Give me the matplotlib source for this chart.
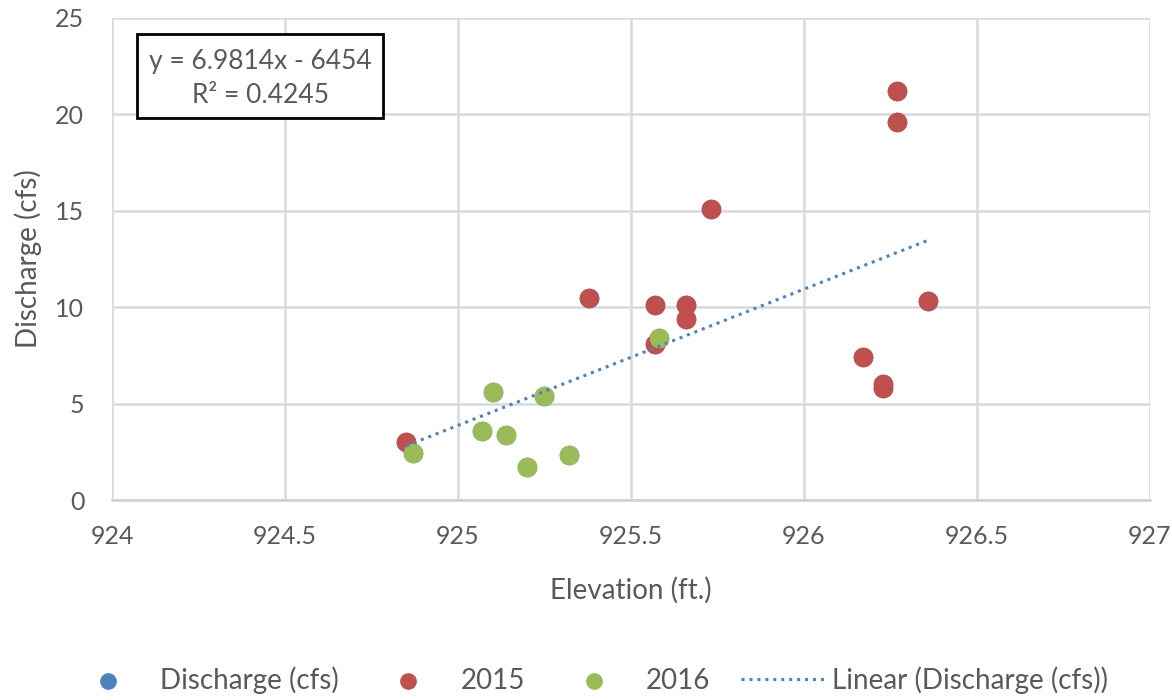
import numpy as np
import matplotlib
matplotlib.use("Agg")
import matplotlib.pyplot as plt
from matplotlib.patches import Rectangle
from matplotlib.legend_handler import HandlerLine2D

plt.rcParams['font.family'] = ['Lato', 'DejaVu Sans']

elev_2015 = [924.85, 925.38, 925.57, 925.66, 925.66, 925.57, 925.73, 926.27, 926.27, 926.36, 926.17, 926.23, 926.23]
q_2015 = [3.0, 10.5, 10.1, 10.1, 9.4, 8.1, 15.1, 21.2, 19.6, 10.3, 7.4, 6.0, 5.8]
elev_2016 = [924.87, 925.07, 925.10, 925.14, 925.25, 925.20, 925.32, 925.58]
q_2016 = [2.44, 3.6, 5.6, 3.35, 5.4, 1.7, 2.35, 8.4]

elev_all = elev_2015 + elev_2016
q_all = q_2015 + q_2016

x_ticks = [924, 924.5, 925, 925.5, 926, 926.5, 927]
x_tick_labels = ['924', '924.5', '925', '925.5', '926', '926.5', '927']
y_ticks = [0, 5, 10, 15, 20, 25]

equation_text = "y = 6.9814x - 6454\nR² = 0.4245"

fig = plt.figure(figsize=(11.72, 7.0), dpi=100)
ax = fig.add_axes([0.0956, 0.2857, 0.8855, 0.6886])

blue = '#4F81BD'
red = '#C0504D'
green = '#9BBB59'
tcol = '#595959'

ax.scatter(elev_all, q_all, s=200, color=blue, zorder=2, label='Discharge (cfs)', linewidths=0)
ax.scatter(elev_2015, q_2015, s=200, color=red, zorder=3, label='2015', linewidths=0)
ax.scatter(elev_2016, q_2016, s=200, color=green, zorder=3, label='2016', linewidths=0)

coef = np.polyfit(elev_all, q_all, 1)
xs = np.array([min(elev_all), max(elev_all)])
ax.plot(xs, np.polyval(coef, xs), linestyle=(0, (1, 1.6)), color=blue, linewidth=2.2,
        zorder=4, label='Linear (Discharge (cfs))')

ax.set_xlim(924, 927)
ax.set_ylim(0, 25)
ax.set_xticks(x_ticks)
ax.set_xticklabels(x_tick_labels)
ax.set_yticks(y_ticks)
ax.grid(True, color='#D9D9D9', linewidth=1.8, zorder=0)
ax.set_axisbelow(True)
for s in ['top', 'right', 'left']:
    ax.spines[s].set_visible(False)
ax.spines['bottom'].set_color('#D0D0D0')
ax.spines['bottom'].set_linewidth(1.8)
ax.tick_params(length=0, labelsize=18, colors=tcol)
ax.tick_params(axis='x', pad=18)
ax.tick_params(axis='y', pad=20)
ax.set_xlabel('Elevation (ft.)', fontsize=20, color=tcol)
ax.set_ylabel('Discharge (cfs)', fontsize=20, color=tcol)
ax.xaxis.label.set_va('center')
ax.yaxis.label.set_va('center')
ax.xaxis.set_label_coords(0.5, -0.187)
ax.yaxis.set_label_coords(-0.081, 0.5)

ax.add_patch(Rectangle((0.0241, 0.7925), 0.237, 0.1743, transform=ax.transAxes,
                       facecolor='white', edgecolor='black', linewidth=2.0, zorder=5))
ax.text(0.1426, 0.8755, equation_text, transform=ax.transAxes, ha='center', va='center',
        fontsize=19, color=tcol, linespacing=1.45, zorder=6)


class LongDotHandler(HandlerLine2D):
    def get_xdata(self, legend, xdescent, ydescent, width, height, fontsize):
        xd = np.array([-xdescent - 0.4 * fontsize, -xdescent + width + 0.57 * fontsize])
        return xd, xd


handles, labels = ax.get_legend_handles_labels()
fig.legend(handles, labels, loc='center', bbox_to_anchor=(0.507, 0.029), ncol=4, frameon=False,
           fontsize=20, labelcolor=tcol, columnspacing=1.5, handletextpad=0.87, markerscale=0.85,
           handlelength=2.0, handler_map={handles[3]: LongDotHandler()})

fig.savefig('out.png', dpi=100)
